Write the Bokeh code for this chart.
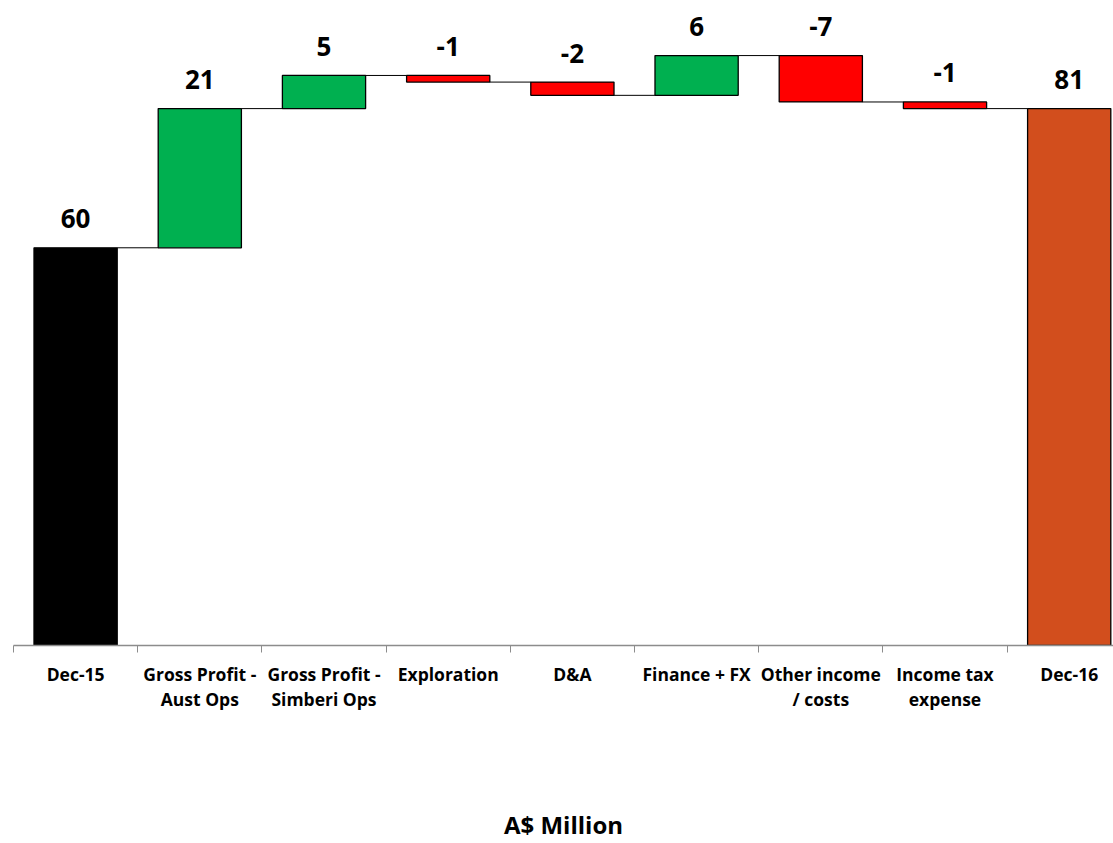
from bokeh.plotting import figure
from bokeh.models import Range1d, FixedTicker, ColumnDataSource
from bokeh.core.properties import value
from bokeh.embed import file_html
from bokeh.resources import INLINE

# Net profit bridge, A$ million
categories = ["Dec-15", "Gross Profit -\nAust Ops", "Gross Profit -\nSimberi Ops",
              "Exploration", "D&A", "Finance + FX", "Other income\n/ costs",
              "Income tax\nexpense", "Dec-16"]
start_value = 60
movements = [21, 5, -1, -2, 6, -7, -1]
end_value = start_value + sum(movements)  # 81

GREEN = "#00B050"
RED = "#FF0000"
START_COLOR = "#000000"
END_COLOR = "#D24E1D"
FONT = "Open Sans"

bar_w = 0.67
half = bar_w / 2

# Build the floating bars
lefts, rights, bottoms, tops, colors, labels, label_y = [], [], [], [], [], [], []
running = [start_value]
lefts.append(0 - half); rights.append(0 + half)
bottoms.append(0); tops.append(start_value)
colors.append(START_COLOR); labels.append(str(start_value)); label_y.append(start_value)
level = start_value
for i, m in enumerate(movements, start=1):
    new_level = level + m
    lefts.append(i - half); rights.append(i + half)
    bottoms.append(min(level, new_level)); tops.append(max(level, new_level))
    colors.append(GREEN if m >= 0 else RED)
    labels.append(str(m)); label_y.append(max(level, new_level))
    level = new_level
    running.append(level)
n = len(categories) - 1
lefts.append(n - half); rights.append(n + half)
bottoms.append(0); tops.append(end_value)
colors.append(END_COLOR); labels.append(str(end_value)); label_y.append(end_value)

bars = ColumnDataSource(dict(left=lefts, right=rights, bottom=bottoms, top=tops,
                             color=colors))
text_src = ColumnDataSource(dict(x=list(range(len(categories))), y=label_y, text=labels))

# Connectors between consecutive bars at the running total
con = ColumnDataSource(dict(
    x0=[i + half for i in range(len(running))],
    x1=[i + 1 - half for i in range(len(running))],
    y=running,
))

unit_px = 124.2
frame_w = 1100
p = figure(width=1113, height=843, output_backend="svg", toolbar_location=None,
           x_range=Range1d(-0.5, -0.5 + frame_w / unit_px),
           y_range=Range1d(0, 95.8),
           min_border_left=13, min_border_right=0, min_border_top=10,
           min_border_bottom=198)
p.outline_line_color = None
p.xgrid.visible = False
p.ygrid.visible = False
p.yaxis.visible = False
p.background_fill_color = "white"
p.border_fill_color = "white"

p.segment(x0="x0", y0="y", x1="x1", y1="y", source=con, line_color="black", line_width=1)
p.quad(left="left", right="right", bottom="bottom", top="top", source=bars,
       fill_color="color", line_color="black", line_width=1.3)

p.text(x="x", y="y", text="text", source=text_src, text_align="center",
       text_baseline="alphabetic", y_offset=-29, text_font=value(FONT),
       text_font_style="bold", text_font_size="26px", text_color="black")

ax = p.xaxis[0]
ax.ticker = FixedTicker(ticks=list(range(len(categories))),
                        minor_ticks=[i - 0.5 for i in range(len(categories) + 1)])
ax.major_label_overrides = {i: c for i, c in enumerate(categories)}
ax.major_tick_line_color = None
ax.minor_tick_line_color = "#8c8c8c"
ax.minor_tick_in = 0
ax.minor_tick_out = 7
ax.axis_line_color = "#8c8c8c"
ax.axis_line_width = 1.3
ax.major_label_standoff = 9
ax.major_label_text_font = FONT
ax.major_label_text_font_style = "bold"
ax.major_label_text_font_size = "17.5px"
ax.major_label_text_color = "black"
ax.major_label_text_line_height = 1.05

ax.axis_label = "A$ Million"
ax.axis_label_standoff = 94
ax.axis_label_text_font = FONT
ax.axis_label_text_font_style = "bold"
ax.axis_label_text_font_size = "24px"
ax.axis_label_text_color = "black"

open("out.html", "w").write(file_html(p, INLINE))
